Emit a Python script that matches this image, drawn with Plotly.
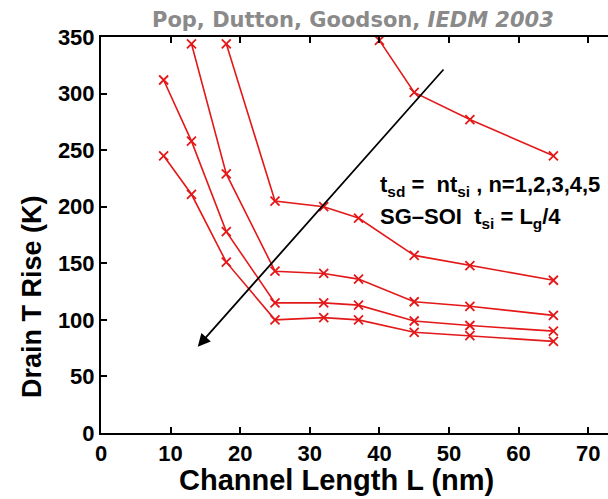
import plotly.graph_objects as go

# Channel lengths (nm)
L = [9, 13, 18, 25, 32, 37, 45, 53, 65]
L5 = [40, 45, 53, 65]

# Drain temperature rise (K) for t_sd = n * t_si
n1 = [245, 211, 151, 100, 102, 100, 89, 86, 81]
n2 = [312, 258, 178, 115, 115, 113, 99, 95, 90]
n3 = [None, 344, 229, 143, 141, 136, 116, 112, 104]
n4 = [None, None, 344, 205, 200, 190, 157, 148, 135]
n5 = [347, 301, 277, 245]

x_ticks = [0, 10, 20, 30, 40, 50, 60, 70]
y_ticks = [0, 50, 100, 150, 200, 250, 300, 350]

RED = "rgb(228,24,24)"
FONT = "Liberation Sans, Arial, Helvetica, sans-serif"

fig = go.Figure()
series = [(L, n1), (L, n2), (L, n3), (L, n4), (L5, n5)]
for xs, ys in series:
    fig.add_trace(go.Scatter(
        x=xs, y=ys, mode="lines+markers",
        line=dict(color=RED, width=1.6),
        marker=dict(symbol="x-thin", size=9, line=dict(color=RED, width=1.8)),
        showlegend=False, cliponaxis=True,
    ))

W, H = 608, 499
ml, mr, mt, mb = 101, 0, 37, 66
pw, ph = W - ml - mr, H - mt - mb

def px(xp):
    return (xp - ml) / pw

def py(yp):
    return (H - mb - yp) / ph

fig.update_layout(
    width=W, height=H,
    margin=dict(l=ml, r=mr, t=mt, b=mb),
    paper_bgcolor="white", plot_bgcolor="white",
    font=dict(family=FONT, color="black"),
)

fig.update_xaxes(
    range=[0, pw / 6.96], tickvals=x_ticks, ticktext=[str(v) for v in x_ticks],
    showline=True, linecolor="black", linewidth=2, mirror="ticks",
    ticks="inside", ticklen=6, tickwidth=2, tickcolor="black",
    showgrid=False, zeroline=False,
    tickfont=dict(size=22, family=FONT, weight="bold"),
)
fig.update_yaxes(
    range=[0, 350], tickvals=y_ticks, ticktext=[str(v) for v in y_ticks],
    showline=True, linecolor="black", linewidth=2, mirror=False,
    ticks="inside", ticklen=6, tickwidth=2, tickcolor="black",
    showgrid=False, zeroline=False,
    tickfont=dict(size=22, family=FONT, weight="bold"),
)

# arrow
fig.add_annotation(
    x=13.9, y=76.3, ax=49.4, ay=322.6, xref="x", yref="y", axref="x", ayref="y",
    text="", showarrow=True, arrowhead=2, arrowsize=1.4, arrowwidth=1.8,
    arrowcolor="black",
)

# in-plot text
fig.add_annotation(
    x=px(378), y=py(186), xref="paper", yref="paper", xanchor="left", yanchor="middle",
    text="t<sub>sd</sub> =\u00a0\u00a0nt<sub>si</sub> , n=1,2,3,4,5",
    showarrow=False, font=dict(size=22, family=FONT, weight="bold", color="black"),
)
fig.add_annotation(
    x=px(378), y=py(218), xref="paper", yref="paper", xanchor="left", yanchor="middle",
    text="SG\u2013SOI\u00a0\u00a0t<sub>si</sub> = L<sub>g</sub>/4",
    showarrow=False, font=dict(size=22, family=FONT, weight="bold", color="black"),
)

# axis titles
fig.add_annotation(
    x=px(336), y=py(480), xref="paper", yref="paper", xanchor="center", yanchor="middle",
    text="Channel Length L (nm)", showarrow=False,
    font=dict(size=29, family=FONT, weight="bold", color="black"),
)
fig.add_annotation(
    x=px(32), y=py(297), xref="paper", yref="paper", xanchor="center", yanchor="middle",
    text="Drain T Rise (K)", showarrow=False, textangle=-90,
    font=dict(size=27, family=FONT, weight="bold", color="black"),
)

# top credit
fig.add_annotation(
    x=px(150), y=py(20), xref="paper", yref="paper", xanchor="left", yanchor="middle",
    text="Pop, Dutton, Goodson, <i>IEDM 2003</i>", showarrow=False,
    font=dict(size=21, family="DejaVu Sans, Verdana, sans-serif", weight="bold", color="#8a8a8a"),
)

fig.write_html("out.html")
